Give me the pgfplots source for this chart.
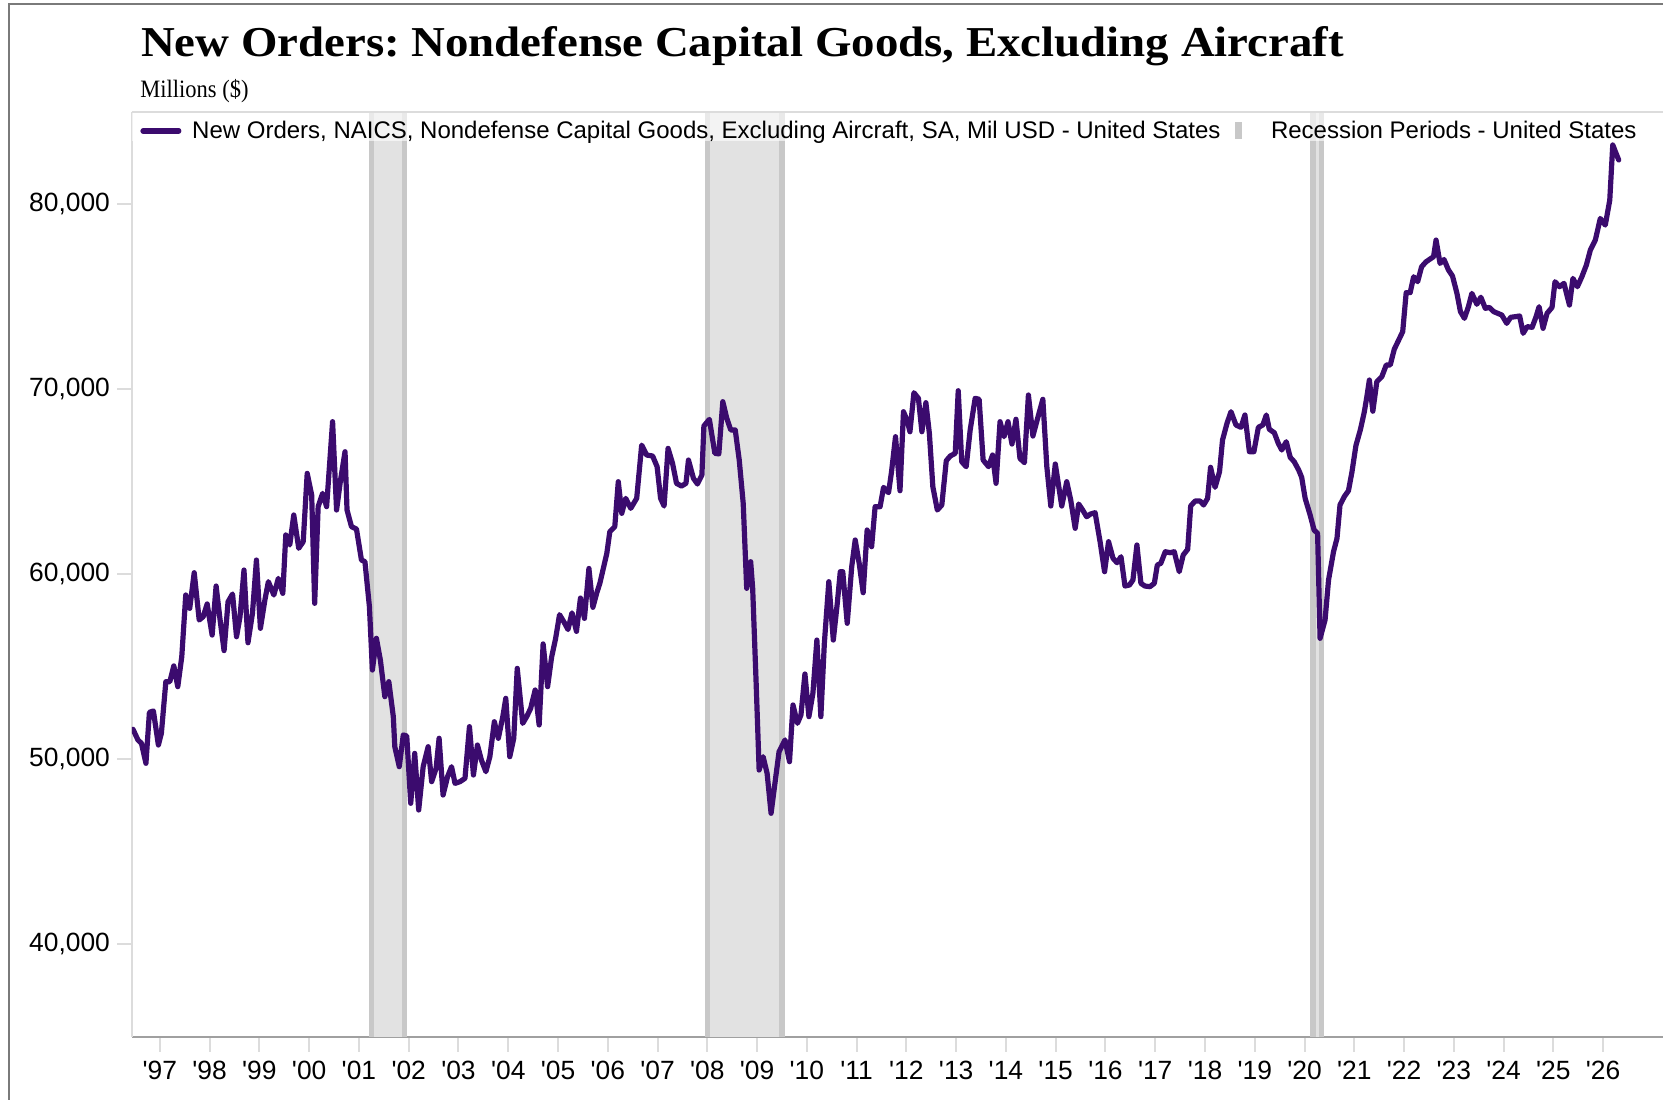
\documentclass[border=0pt]{standalone}
\usepackage{pgfplots}
\pgfplotsset{compat=1.18}
\usepackage{pgfplotstable}
\usepackage{fontspec}
\setmainfont{Liberation Sans}
\newfontfamily\titlefamily[FakeStretch=1.1]{Liberation Serif}
\newfontfamily\subfamily[FakeStretch=0.9]{Liberation Serif}
\definecolor{purp}{HTML}{3B0B6E}
\definecolor{recfill}{HTML}{E2E2E2}
\definecolor{recedge}{HTML}{C8C8C8}
\definecolor{axisgray}{HTML}{A0A0A0}
\definecolor{lightgr}{HTML}{DCDCDC}
\definecolor{framegray}{HTML}{7A7A7A}
\newcommand{\q}{\textquotesingle}
\pgfplotsset{
  lineleg/.style={legend image code/.code={\draw[purp, line width=2.6pt, line cap=round] (1.3pt,0pt) -- (19.2pt,0pt); \path[draw=none,fill=none] (0pt,0pt) -- (20.5pt,0pt);}},
  recleg/.style={legend image code/.code={\path[fill=recedge, draw=none] (0pt,-4.25pt) rectangle (3.5pt,4.25pt); \path[draw=none,fill=none] (0pt,0pt) -- (12.4pt,0pt);}},
}

\pgfplotstableread{
x y
1996.46 51605
1996.56 51027
1996.63 50850
1996.72 49767
1996.79 52524
1996.87 52595
1996.97 50757
1997.03 51386
1997.12 54180
1997.20 54180
1997.28 55030
1997.36 53910
1997.44 55530
1997.52 58865
1997.60 58145
1997.69 60070
1997.79 57515
1997.87 57690
1997.95 58380
1998.05 56700
1998.13 59350
1998.21 57515
1998.29 55860
1998.37 58500
1998.46 58920
1998.54 56610
1998.61 57690
1998.69 60215
1998.77 56285
1998.86 57870
1998.94 60755
1999.02 57065
1999.11 58595
1999.18 59585
1999.29 58865
1999.38 59765
1999.47 58955
1999.53 62110
1999.61 61570
1999.69 63190
1999.79 61390
1999.88 61750
1999.96 65440
2000.05 64270
2000.11 58415
2000.18 63640
2000.27 64360
2000.35 63640
2000.47 68235
2000.55 63460
2000.63 65080
2000.72 66610
2000.76 63460
2000.85 62560
2000.95 62430
2001.05 60755
2001.12 60665
2001.21 58235
2001.27 54810
2001.35 56525
2001.43 55350
2001.52 53370
2001.60 54180
2001.69 52290
2001.72 50665
2001.81 49585
2001.89 51300
2001.96 51245
2002.04 47605
2002.12 50305
2002.20 47245
2002.29 49585
2002.39 50665
2002.46 48775
2002.55 49500
2002.61 51120
2002.69 48055
2002.78 49045
2002.86 49585
2002.93 48685
2003.03 48775
2003.13 48955
2003.22 51750
2003.30 49135
2003.38 50755
2003.46 49945
2003.55 49315
2003.63 50125
2003.72 52015
2003.80 51120
2003.89 52290
2003.95 53280
2004.03 50125
2004.11 51120
2004.18 54900
2004.29 51925
2004.37 52290
2004.45 52740
2004.54 53730
2004.62 51840
2004.70 56220
2004.79 53910
2004.87 55500
2004.95 56500
2005.03 57800
2005.12 57400
2005.20 57000
2005.28 57900
2005.37 56900
2005.45 58700
2005.53 57600
2005.62 60300
2005.70 58200
2005.78 59000
2005.84 59497
2005.98 61118
2006.04 62290
2006.14 62560
2006.21 64990
2006.28 63280
2006.36 64090
2006.46 63550
2006.58 64090
2006.68 66970
2006.78 66430
2006.90 66380
2006.99 65800
2007.06 64090
2007.13 63675
2007.21 66790
2007.30 65985
2007.38 64900
2007.48 64755
2007.57 64900
2007.62 66160
2007.72 65175
2007.80 64865
2007.89 65350
2007.93 68000
2008.04 68360
2008.15 66525
2008.23 66490
2008.31 69315
2008.39 68415
2008.47 67785
2008.56 67785
2008.64 66160
2008.72 63820
2008.79 59225
2008.87 60665
2008.91 59225
2008.98 54090
2009.04 49405
2009.12 50125
2009.20 49225
2009.28 47065
2009.34 48325
2009.44 50395
2009.56 51030
2009.65 49855
2009.72 52920
2009.81 51930
2009.88 52380
2009.96 54595
2010.04 52290
2010.12 53550
2010.20 56430
2010.28 52290
2010.35 56250
2010.44 59585
2010.53 56430
2010.61 58415
2010.67 60125
2010.72 60125
2010.81 57335
2010.90 60395
2010.97 61838
2011.05 60578
2011.13 58990
2011.21 62378
2011.30 61476
2011.37 63638
2011.47 63638
2011.54 64685
2011.64 64395
2011.70 65530
2011.78 67422
2011.87 64503
2011.94 68773
2012.01 68324
2012.07 67692
2012.15 69800
2012.24 69497
2012.31 67692
2012.39 69260
2012.46 67605
2012.53 64719
2012.62 63459
2012.71 63730
2012.80 66124
2012.88 66378
2012.98 66524
2013.04 69908
2013.11 66070
2013.20 65800
2013.28 67784
2013.38 69497
2013.46 69443
2013.54 66162
2013.65 65800
2013.73 66432
2013.80 64903
2013.88 68233
2013.96 67422
2014.04 68233
2014.12 67027
2014.20 68362
2014.28 66254
2014.37 66016
2014.45 69676
2014.54 67459
2014.63 68362
2014.74 69443
2014.82 65800
2014.90 63676
2014.99 65946
2015.12 63676
2015.22 64989
2015.30 64000
2015.39 62470
2015.46 63784
2015.54 63459
2015.62 63097
2015.70 63243
2015.79 63316
2015.89 61746
2015.98 60125
2016.06 61746
2016.15 60849
2016.23 60611
2016.31 60935
2016.39 59351
2016.48 59405
2016.55 59676
2016.63 61568
2016.71 59497
2016.79 59351
2016.89 59314
2016.98 59497
2017.04 60486
2017.11 60578
2017.20 61205
2017.30 61151
2017.38 61205
2017.48 60125
2017.56 61027
2017.65 61335
2017.71 63676
2017.80 63946
2017.90 63946
2017.97 63730
2018.05 64090
2018.11 65768
2018.20 64685
2018.29 65530
2018.35 67243
2018.44 68146
2018.52 68773
2018.62 68054
2018.72 67928
2018.80 68595
2018.89 66611
2018.98 66611
2019.07 67928
2019.16 68054
2019.23 68595
2019.29 67822
2019.39 67638
2019.47 67065
2019.54 66703
2019.63 67151
2019.71 66308
2019.79 66070
2019.88 65622
2019.94 65227
2020.01 64092
2020.11 63189
2020.19 62378
2020.26 62198
2020.31 56524
2020.41 57514
2020.48 59676
2020.58 61205
2020.65 61930
2020.71 63730
2020.80 64200
2020.88 64500
2020.95 65510
2021.03 66943
2021.12 67803
2021.20 68778
2021.25 69585
2021.30 70485
2021.37 68800
2021.45 70395
2021.55 70665
2021.64 71300
2021.72 71300
2021.80 72145
2021.89 72650
2021.97 73100
2022.04 75210
2022.12 75210
2022.19 76070
2022.27 75800
2022.35 76610
2022.44 76880
2022.54 77060
2022.59 77150
2022.64 78050
2022.72 76790
2022.80 77000
2022.89 76430
2022.97 76110
2023.06 75170
2023.13 74180
2023.21 73820
2023.29 74450
2023.36 75170
2023.46 74580
2023.54 74960
2023.63 74360
2023.71 74410
2023.80 74180
2023.88 74090
2023.96 74000
2024.06 73550
2024.14 73875
2024.23 73910
2024.32 73945
2024.39 73010
2024.47 73370
2024.57 73335
2024.65 73910
2024.71 74450
2024.79 73280
2024.87 74090
2024.97 74410
2025.03 75800
2025.12 75530
2025.21 75710
2025.32 74540
2025.39 75980
2025.48 75530
2025.57 76070
2025.66 76700
2025.74 77510
2025.84 78050
2025.94 79220
2026.04 78860
2026.13 80210
2026.19 83190
2026.31 82380
}\orders

\begin{document}
\frenchspacing
\begin{tikzpicture}
\useasboundingbox (0,0) rectangle (831.5pt,549.5pt);
% outer frame (left and top edges)
\draw[framegray, line width=0.7pt] (4.5pt,-5pt) -- (4.5pt,547.5pt) -- (840pt,547.5pt);
% title and subtitle
\node[anchor=base west, inner sep=0pt, font=\titlefamily\bfseries\fontsize{21.3}{24}\selectfont] at (70.3pt,521.15pt) {New Orders: Nondefense Capital Goods, Excluding Aircraft};
\node[anchor=base west, inner sep=0pt, font=\subfamily\fontsize{12.5}{14}\selectfont] at (70pt,500.85pt) {Millions (\$)};

\begin{axis}[
  at={(66pt,31.25pt)}, anchor=south west,
  scale only axis, width=765.5pt, height=462.5pt,
  xmin=1996.44, xmax=2027.2, ymin=35000, ymax=85000,
  axis x line*=bottom, axis y line*=left,
  x axis line style={draw=axisgray, line width=1pt},
  y axis line style={draw=lightgr, line width=1pt},
  tick align=outside, major tick length=7.5pt,
  every tick/.style={draw=lightgr, line width=1pt},
  xtick={1997,...,2026},
  xticklabels={\q97,\q98,\q99,\q00,\q01,\q02,\q03,\q04,\q05,\q06,\q07,\q08,\q09,\q10,\q11,\q12,\q13,\q14,\q15,\q16,\q17,\q18,\q19,\q20,\q21,\q22,\q23,\q24,\q25,\q26},
  ytick={40000,50000,60000,70000,80000},
  scaled y ticks=false,
  yticklabel style={/pgf/number format/1000 sep={,}, /pgf/number format/assume math mode=true, inner xsep=3.35pt},
  xticklabel style={inner ysep=4.8pt},
  tick label style={font=\fontsize{13.2}{15}\selectfont},
  legend columns=2,
  legend cell align=left,
  legend style={at={(rel axis cs:0,1)}, anchor=north west, draw=none, fill=none,
    font=\fontsize{12}{14}\selectfont, inner xsep=4pt, inner ysep=2.4pt,
    /tikz/every odd column/.append style={column sep=3.4pt},
    /tikz/every even column/.append style={column sep=5.4pt}},
]
% recession bands
\addplot[fill=recfill, draw=none, forget plot] coordinates {(2001.25,35000) (2001.25,85000) (2001.917,85000) (2001.917,35000)} -- cycle;
\addplot[recedge, line width=2.7pt, forget plot] coordinates {(2001.25,35000) (2001.25,85000)};
\addplot[recedge, line width=2.7pt, forget plot] coordinates {(2001.917,35000) (2001.917,85000)};
\addplot[fill=recfill, draw=none, forget plot] coordinates {(2008.0,35000) (2008.0,85000) (2009.5,85000) (2009.5,35000)} -- cycle;
\addplot[recedge, line width=2.7pt, forget plot] coordinates {(2008.0,35000) (2008.0,85000)};
\addplot[recedge, line width=2.7pt, forget plot] coordinates {(2009.5,35000) (2009.5,85000)};
\addplot[fill=recfill, draw=none, forget plot] coordinates {(2020.167,35000) (2020.167,85000) (2020.333,85000) (2020.333,35000)} -- cycle;
\addplot[recedge, line width=2.7pt, forget plot] coordinates {(2020.167,35000) (2020.167,85000)};
\addplot[recedge, line width=2.7pt, forget plot] coordinates {(2020.333,35000) (2020.333,85000)};
% top border and legend backdrop
\fill[white, opacity=0.6] (rel axis cs:0,0.9676) rectangle (rel axis cs:1,1);
\draw[lightgr, line width=1pt] (rel axis cs:0,1) -- (rel axis cs:1,1);
% series
\addplot[purp, line width=2.6pt, line join=round, line cap=round, lineleg]
  table[x=x, y=y] {\orders};
\addlegendentry{New Orders, NAICS, Nondefense Capital Goods, Excluding Aircraft, SA, Mil USD - United States}
\addlegendimage{recleg}
\addlegendentry{Recession Periods - United States}
\end{axis}
\end{tikzpicture}
\end{document}
